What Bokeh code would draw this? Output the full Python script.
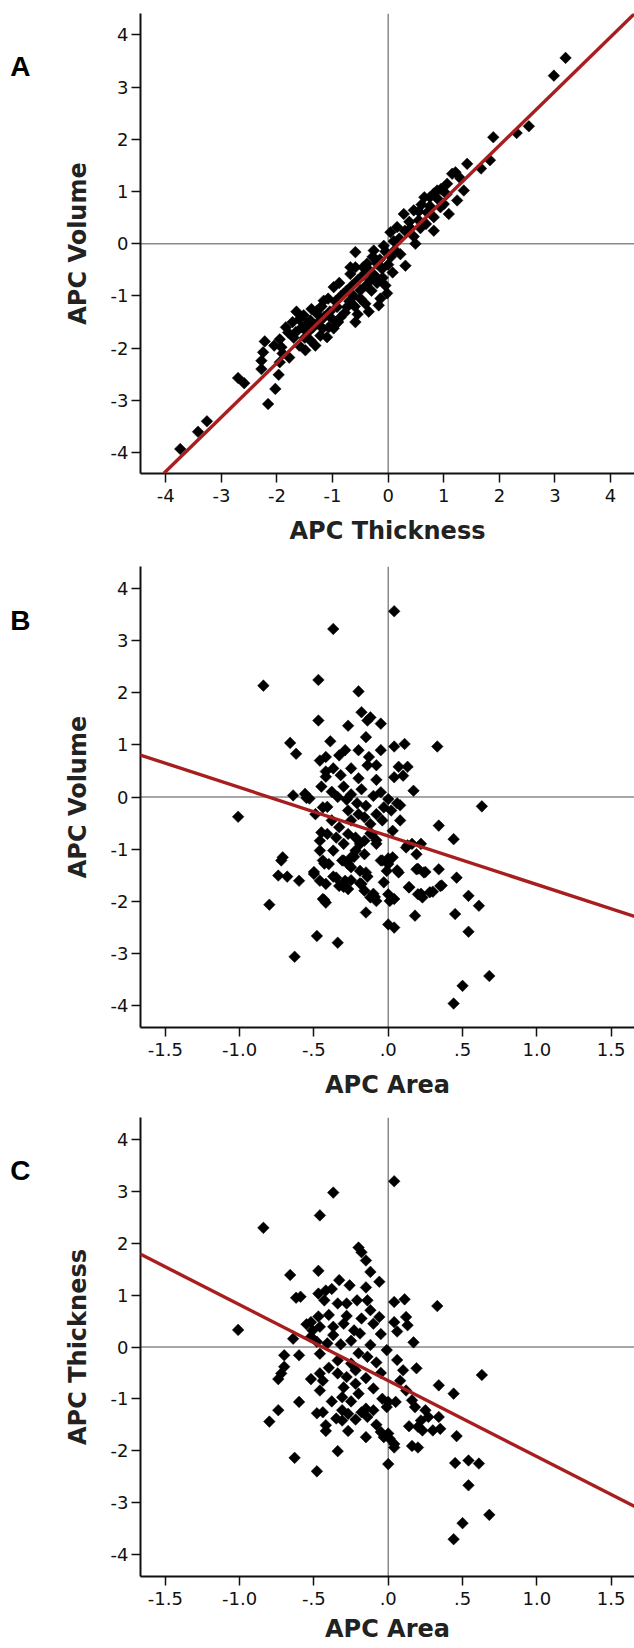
import math
from bokeh.plotting import figure
from bokeh.models import Range1d, Span, Slope, FixedTicker, LinearAxis
from bokeh.layouts import column
from bokeh.embed import file_html
from bokeh.resources import INLINE

# ---------------- data ----------------
Y_TICKS = [-4, -3, -2, -1, 0, 1, 2, 3, 4]
Y_TICK_LABELS = ["-4", "-3", "-2", "-1", "0", "1", "2", "3", "4"]
THICK_TICKS = [-4, -3, -2, -1, 0, 1, 2, 3, 4]
THICK_TICK_LABELS = ["-4", "-3", "-2", "-1", "0", "1", "2", "3", "4"]
AREA_TICKS = [-1.5, -1.0, -0.5, 0.0, 0.5, 1.0, 1.5]
AREA_TICK_LABELS = ["-1.5", "-1.0", "-.5", ".0", ".5", "1.0", "1.5"]

# Panel A: (APC Thickness, APC Volume)
A_POINTS = [
    (3.19, 3.56), (2.98, 3.22), (2.53, 2.25), (2.31, 2.12), (1.89, 2.04), (1.83, 1.60),
    (1.67, 1.44), (1.42, 1.53), (1.21, 1.37), (1.15, 1.34), (1.06, 1.15), (1.36, 1.02),
    (1.24, 0.83), (1.09, 0.57), (1.00, 0.76), (0.88, 1.02), (0.82, 0.96), (0.75, 0.89),
    (0.65, 0.89), (0.46, 0.64), (0.82, 0.25), (0.82, 0.51), (0.94, 0.70), (0.28, 0.57),
    (0.04, 0.22), (0.16, 0.32), (0.46, 0.14), (0.49, 0.00), (0.31, -0.42), (-0.59, -0.16),
    (-0.26, -0.13), (-0.08, -0.04), (0.22, -0.20), (-0.21, -0.32), (-0.68, -0.45), (-0.38, -0.38),
    (0.60, 0.75), (0.70, 0.60), (0.55, 0.45), (0.38, 0.42), (0.20, 0.10), (0.10, 0.05),
    (0.30, 0.25), (0.68, 0.38), (0.58, 0.30), (0.12, -0.12), (0.05, -0.25), (-0.05, -0.15),
    (0.90, 0.85), (0.55, 0.62), (0.75, 0.72), (0.40, 0.30), (1.05, 0.95), (1.30, 1.25), (0.95, 1.05),
    (-3.74, -3.93), (-3.42, -3.60), (-3.26, -3.40), (-2.70, -2.57), (-2.59, -2.67), (-2.16, -3.07),
    (-2.03, -2.78), (-1.97, -2.51), (-1.95, -2.27), (-2.28, -2.40), (-2.28, -2.24), (-2.25, -2.08),
    (-2.22, -1.87), (-1.95, -1.83), (-1.92, -1.98), (-1.78, -2.18), (-1.84, -1.60), (-1.72, -1.50),
    (-1.66, -1.69), (-1.60, -1.95), (-1.49, -2.04), (-1.52, -1.37), (-1.40, -1.47), (-1.28, -1.28),
    (-1.31, -1.95), (-1.07, -1.60), (-0.59, -1.50), (-0.41, -1.15), (-0.17, -1.18), (-0.14, -1.05),
    (-0.86, -1.41), (-0.74, -1.21), (-0.98, -0.83), (-1.16, -1.09), (-0.68, -0.58), (-0.59, -0.45),
    (-0.32, -0.70), (-0.11, -0.48), (-0.20, -0.38), (-1.28, -1.34), (-1.46, -1.53), (-1.22, -1.76),
    (-1.40, -1.85), (-1.10, -1.79), (-0.80, -0.96), (-0.50, -0.89), (-0.92, -1.21),
    (-1.60, -1.45), (-1.55, -1.60), (-1.45, -1.70), (-1.35, -1.60), (-1.25, -1.50), (-1.15, -1.40),
    (-1.05, -1.30), (-0.95, -1.10), (-0.85, -1.00), (-0.75, -0.90), (-0.65, -0.80), (-0.55, -0.70),
    (-0.45, -0.60), (-0.35, -0.50), (-0.25, -0.60), (-0.15, -0.30), (-1.70, -1.80), (-1.80, -1.70),
    (-1.50, -1.80), (-1.20, -1.20), (-1.00, -1.45), (-0.90, -1.50), (-0.70, -1.10), (-0.60, -1.20),
    (-0.50, -1.05), (-0.40, -0.80), (-0.30, -0.90), (-0.20, -0.75), (-0.10, -0.65), (0.00, -0.40),
    (-1.38, -1.25), (-1.18, -1.62), (-0.98, -1.62), (-0.78, -1.32), (-0.62, -1.00), (-0.88, -0.75),
    (-1.08, -1.05), (-0.45, -0.45), (-0.28, -0.25), (-0.05, -0.80), (-2.05, -1.95), (-1.90, -2.10),
    (-1.65, -1.30), (-0.35, -1.30), (-0.55, -1.35), (0.08, -0.55), (-0.02, -0.95),
]

# Panel B: (APC Area, APC Volume)
B_POINTS = [
    (0.04, 3.57), (-0.37, 3.23), (-0.47, 2.25), (-0.84, 2.14), (-0.20, 2.03), (-0.18, 1.63),
    (-0.12, 1.53), (-0.14, 1.47), (-0.05, 1.41), (-0.47, 1.47), (-0.27, 1.37), (-0.15, 1.15),
    (-0.39, 1.07), (0.04, 0.97), (0.11, 1.02), (0.33, 0.97), (-0.05, 0.90), (-0.20, 0.90),
    (-0.29, 0.90), (-0.13, 0.77), (-0.46, 0.70), (-0.42, 0.77), (-0.33, 0.80), (-0.66, 1.04),
    (-0.62, 0.83), (-0.08, 0.61), (-0.14, 0.61), (-0.25, 0.55), (-0.37, 0.55), (-0.42, 0.49),
    (0.07, 0.58), (0.13, 0.58), (0.04, 0.38), (0.10, 0.41), (-0.20, 0.36), (-0.32, 0.42),
    (-0.42, 0.39), (-0.08, 0.33), (0.17, 0.12), (-0.05, 0.09), (0.00, -0.04), (0.06, -0.12),
    (-0.55, -0.02), (-0.21, -0.12), (-0.28, -0.05), (-0.34, 0.00), (-0.41, -0.19), (-0.64, 0.03),
    (-0.56, 0.06), (-0.53, -0.03), (-1.01, -0.38), (0.63, -0.18),
    (-0.30, 0.20), (-0.18, 0.15), (-0.45, 0.20), (-0.25, 0.05), (-0.10, 0.02), (-0.38, 0.10),
    (-0.71, -1.16), (-0.72, -1.22), (-0.74, -1.51), (-0.68, -1.53), (-0.60, -1.61), (-0.80, -2.07),
    (-0.63, -3.07), (-0.48, -2.67), (-0.34, -2.80), (-0.50, -1.48), (-0.46, -1.61), (-0.42, -1.67),
    (-0.44, -1.96), (-0.42, -2.03), (-0.46, -1.03), (-0.46, -0.84), (-0.45, -0.68), (-0.44, -1.22),
    (-0.40, -1.29), (-0.35, -1.55), (-0.33, -1.71), (-0.29, -1.61), (-0.27, -1.77), (-0.31, -1.22),
    (-0.27, -1.29), (-0.25, -1.35), (-0.19, -1.42), (-0.15, -1.45), (-0.18, -1.67), (-0.16, -1.80),
    (-0.12, -1.93), (-0.08, -2.00), (-0.15, -2.22), (-0.04, -1.22), (0.00, -1.29), (-0.01, -1.42),
    (-0.03, -1.64), (0.00, -1.87), (0.01, -2.00), (0.04, -1.96), (0.00, -2.45), (0.04, -2.51),
    (0.07, -1.45), (0.03, -1.16), (0.12, -0.97), (0.16, -0.90), (0.22, -0.90), (0.19, -1.10),
    (0.14, -1.74), (0.19, -1.39), (0.24, -1.45), (0.20, -1.87), (0.23, -1.93), (0.28, -1.83),
    (0.34, -1.39), (0.35, -1.71), (0.18, -2.28), (0.46, -1.55), (0.45, -2.25), (0.54, -1.90),
    (0.61, -2.09), (0.54, -2.59), (0.44, -0.81), (0.34, -0.55), (0.08, -0.45), (0.03, -0.65),
    (0.68, -3.44), (0.50, -3.63), (0.44, -3.97),
    (-0.38, -0.45), (-0.33, -0.58), (-0.27, -0.71), (-0.22, -0.78), (-0.16, -0.84), (-0.11, -0.71),
    (-0.08, -0.90), (-0.22, -1.03), (-0.16, -1.10), (-0.30, -0.90), (-0.35, -0.78), (-0.41, -0.71),
    (-0.25, -0.45), (-0.16, -0.39), (-0.08, -0.33), (-0.04, -0.45), (-0.12, -0.52), (-0.20, -0.33),
    (-0.27, -0.26), (-0.03, -0.20), (-0.15, -0.17), (-0.44, -0.20), (-0.49, -0.33), (-0.37, -1.03),
    (-0.25, -1.16), (0.08, -0.16), (0.02, -0.26), (0.13, -0.93), (0.06, -1.41), (0.00, -1.18),
    (-0.05, -1.22), (0.20, -1.38), (0.25, -1.44), (0.14, -1.73), (0.22, -1.86), (0.30, -1.82),
    (0.36, -1.70), (-0.09, -1.92), (-0.12, -0.70), (-0.08, -0.83), (-0.19, -0.90), (-0.23, -1.15),
    (-0.30, -1.22), (-0.43, -1.28), (-0.50, -1.44), (-0.37, -1.53), (-0.30, -1.73), (-0.25, -1.60),
    (-0.19, -1.66), (-0.14, -1.53), (-0.10, -1.86), (-0.43, -1.98),
]

# Panel C: (APC Area, APC Thickness)
C_POINTS = [
    (0.04, 3.20), (-0.37, 2.98), (-0.46, 2.54), (-0.84, 2.30), (-0.20, 1.92), (-0.18, 1.83),
    (-0.15, 1.67), (-0.47, 1.47), (-0.12, 1.45), (-0.66, 1.39), (-0.06, 1.26), (-0.33, 1.29),
    (-0.26, 1.19), (-0.15, 1.15), (-0.42, 1.09), (-0.38, 1.12), (-0.62, 0.95), (-0.47, 1.03),
    (-0.43, 0.90), (-0.34, 0.84), (-0.28, 0.84), (-0.21, 0.90), (-0.14, 0.90), (0.04, 0.87),
    (0.11, 0.92), (0.33, 0.79), (-0.12, 0.71), (-0.06, 0.58), (0.04, 0.48), (0.12, 0.58),
    (0.13, 0.42), (0.06, 0.30), (-0.05, 0.25), (0.17, 0.09), (-0.52, 0.48), (-0.46, 0.39),
    (-0.37, 0.39), (-0.30, 0.45), (-0.23, 0.32), (-0.19, 0.26), (-0.37, 0.23), (-0.48, 0.10),
    (-0.41, 0.07), (-0.12, 0.04), (-0.20, -0.12), (-0.14, -0.19), (-0.01, -0.06), (0.06, -0.25),
    (0.19, -0.41), (0.63, -0.54), (-1.01, 0.33), (-0.64, 0.16), (-0.55, 0.44), (-0.51, 0.32),
    (-0.52, 0.20), (-0.47, 0.59), (-0.70, -0.16), (-0.60, -0.16), (-0.70, -0.38), (-0.72, -0.51),
    (-0.46, -0.13), (-0.34, -0.26), (-0.25, -0.32), (-0.46, -0.51), (-0.34, -0.51), (-0.59, 0.97),
    (-0.28, 0.60), (-0.40, 0.62), (-0.18, 0.55), (-0.10, 0.45), (-0.25, 0.12), (-0.32, 0.05),
    (-0.08, -0.30), (-0.22, -0.45), (-0.05, -0.50), (0.10, -0.45),
    (-0.80, -1.44), (-0.74, -1.22), (-0.60, -1.06), (-0.63, -2.14), (-0.48, -2.40), (-0.34, -2.01),
    (-0.48, -1.28), (-0.44, -1.26), (-0.42, -1.51), (-0.42, -1.62), (-0.46, -0.84), (-0.44, -0.65),
    (-0.52, -0.62), (-0.74, -0.62), (-0.35, -1.38), (-0.31, -1.42), (-0.31, -1.22), (-0.27, -1.29),
    (-0.27, -1.62), (-0.31, -0.97), (-0.30, -0.78), (-0.22, -0.71), (-0.18, -1.26), (-0.15, -1.19),
    (-0.14, -1.35), (-0.10, -1.22), (-0.15, -1.74), (-0.05, -1.64), (-0.03, -1.74), (0.00, -1.67),
    (0.01, -1.77), (0.04, -1.87), (0.04, -1.94), (0.00, -2.26), (-0.04, -1.00), (0.00, -1.06),
    (0.05, -1.06), (-0.01, -1.16), (0.12, -0.84), (0.16, -1.03), (0.18, -1.16), (0.25, -1.22),
    (0.27, -1.35), (0.22, -1.42), (0.14, -1.53), (0.20, -1.54), (0.23, -1.61), (0.30, -1.61),
    (0.35, -1.58), (0.34, -1.35), (0.16, -1.91), (0.20, -1.94), (0.46, -1.72), (0.45, -2.24),
    (0.54, -2.19), (0.61, -2.25), (0.54, -2.67), (0.68, -3.24), (0.50, -3.40), (0.44, -3.71),
    (0.34, -0.74), (0.44, -0.90), (0.08, -0.65),
    (-0.20, -0.90), (-0.10, -0.80), (-0.25, -1.05), (-0.38, -1.05), (-0.40, -0.40), (-0.15, -0.60),
    (-0.28, -0.58), (-0.22, -1.40), (-0.08, -1.50),
]

# fitted lines (slope, intercept)
A_FIT = (1.04, -0.20)
B_FIT = (-0.933, -0.75)
C_FIT = (-1.465, -0.65)

PANEL_LETTERS = ["A", "B", "C"]
LETTER_Y = 3.4

# ---------------- styling ----------------
FONT = "DejaVu Sans"
RED = "#a81e1e"
REFLINE = "#8a8a8a"
W = 634
LEFT = 140


def make_panel(points, fit, xr, yr, xticks, xlabels, xtitle, ytitle, letter,
               height, top, bottom, x_title_standoff):
    p = figure(width=W, height=height, output_backend="svg", toolbar_location=None,
               x_range=Range1d(*xr), y_range=Range1d(*yr),
               min_border_left=LEFT, min_border_right=0,
               min_border_top=top, min_border_bottom=bottom)
    p.outline_line_color = None
    p.grid.visible = False
    p.background_fill_color = "white"
    p.border_fill_color = "white"

    p.add_layout(Span(location=0, dimension="width", line_color=REFLINE,
                      line_width=1.5, level="underlay"))
    p.add_layout(Span(location=0, dimension="height", line_color=REFLINE,
                      line_width=1.5, level="underlay"))

    xs = [pt[0] for pt in points]
    ys = [pt[1] for pt in points]
    p.scatter(xs, ys, marker="square", size=8.2, angle=math.pi / 4,
              fill_color="black", line_color="black", line_width=0.5)

    p.add_layout(Slope(gradient=fit[0], y_intercept=fit[1], line_color=RED,
                       line_width=3.4))

    for ax, ticks, labels in ((p.xaxis[0], xticks, xlabels),
                              (p.yaxis[0], Y_TICKS, Y_TICK_LABELS)):
        ax.ticker = FixedTicker(ticks=ticks)
        ax.major_label_overrides = {t: l for t, l in zip(ticks, labels)}
        ax.minor_tick_line_color = None
        ax.major_tick_in = 0
        ax.major_tick_out = 9
        ax.major_tick_line_width = 1.5
        ax.major_tick_line_color = "#111111"
        ax.axis_line_width = 2
        ax.axis_line_color = "#111111"
        ax.major_label_text_font = FONT
        ax.major_label_text_font_size = "18px"
        ax.major_label_text_color = "#111111"
        ax.axis_label_text_font = FONT
        ax.axis_label_text_font_size = "24px"
        ax.axis_label_text_font_style = "bold"
        ax.axis_label_text_color = "#222222"

    p.xaxis[0].axis_label = xtitle
    p.yaxis[0].axis_label = ytitle
    p.xaxis[0].major_label_standoff = 6
    p.xaxis[0].axis_label_standoff = x_title_standoff
    p.yaxis[0].major_label_standoff = 3
    p.yaxis[0].axis_label_standoff = 16

    # panel letter: an extra, line-less axis with one labelled tick
    letter_axis = LinearAxis(ticker=FixedTicker(ticks=[LETTER_Y]),
                             major_label_overrides={LETTER_Y: letter},
                             axis_line_color=None, major_tick_line_color=None,
                             minor_tick_line_color=None, major_tick_in=0, major_tick_out=0,
                             minor_tick_in=0, minor_tick_out=0,
                             major_label_text_font="Liberation Sans",
                             major_label_text_font_size="28px",
                             major_label_text_font_style="bold",
                             major_label_text_color="black",
                             major_label_standoff=30)
    p.add_layout(letter_axis, "left")
    return p


XR_THICK = (-4.455, 4.43)
XR_AREA = (-1.667, 1.657)

pA = make_panel(A_POINTS, A_FIT, XR_THICK, (-4.40, 4.41), THICK_TICKS, THICK_TICK_LABELS,
                "APC Thickness", "APC Volume", PANEL_LETTERS[0], 553, 13, 80, 12)
pB = make_panel(B_POINTS, B_FIT, XR_AREA, (-4.43, 4.43), AREA_TICKS, AREA_TICK_LABELS,
                "APC Area", "APC Volume", PANEL_LETTERS[1], 552, 13, 78, 12)
pC = make_panel(C_POINTS, C_FIT, XR_AREA, (-4.43, 4.43), AREA_TICKS, AREA_TICK_LABELS,
                "APC Area", "APC Thickness", PANEL_LETTERS[2], 543, 12, 72, 7)

layout = column(pA, pB, pC, spacing=0)

open("out.html", "w").write(file_html(layout, INLINE))
